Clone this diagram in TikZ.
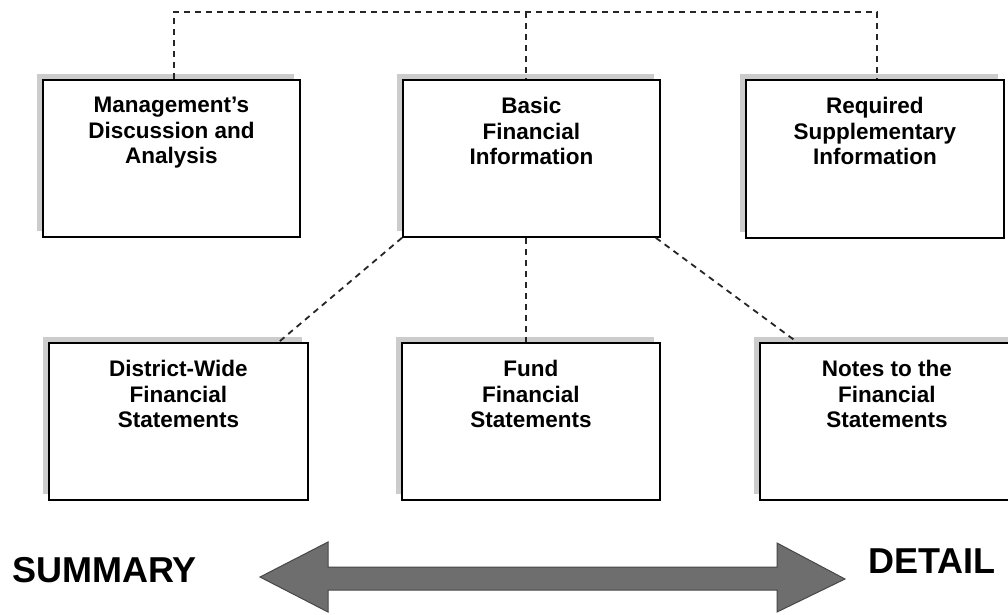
\documentclass[tikz,border=0pt]{standalone}
\usepackage{fontspec}
\setmainfont{Liberation Sans}
\usetikzlibrary{shadows}
\begin{document}
\begin{tikzpicture}[x=1pt,y=-1pt,
  box/.style={draw=black, line width=1.8pt, fill=white, anchor=north west, inner sep=0pt,
    drop shadow={shadow xshift=-6pt, shadow yshift=6pt, fill=black!20, opacity=1}},
  txt/.style={font=\bfseries\fontsize{22.5}{25.5}\selectfont, align=center, anchor=north, inner sep=0pt},
  conn/.style={draw=black!85, line width=1.8pt, dash pattern=on 6pt off 5pt},
  big/.style={font=\bfseries\fontsize{36}{40}\selectfont, inner sep=0pt, anchor=base west},
  fatarrow/.style={fill=black!57, draw=black!72, line width=1pt, line join=miter}]
\clip (0,0) rectangle (1008,614);
\fill[white] (0,0) rectangle (1008,614);

% top row boxes
\node[box, minimum width=257pt, minimum height=157pt] (mda) at (42,79) {};
\node[box, minimum width=257pt, minimum height=157pt] (bfi) at (402,79) {};
\node[box, minimum width=258pt, minimum height=158pt] (rsi) at (745,79) {};
% bottom row boxes
\node[box, minimum width=259pt, minimum height=157pt] (dw) at (48,342) {};
\node[box, minimum width=258pt, minimum height=157pt] (ffs) at (401,342) {};
\node[box, minimum width=256pt, minimum height=157pt] (nfs) at (759,342) {};

% box texts
\node[txt] (mdat) at ([yshift=-18pt]mda.north) {Management’s\\Discussion and\\Analysis};
\node[txt] (bfit) at ([yshift=-18pt]bfi.north) {Basic\\Financial\\Information};
\node[txt] (rsit) at ([yshift=-18pt]rsi.north) {Required\\Supplementary\\Information};
\node[txt] (dwt) at ([yshift=-18pt]dw.north) {District-Wide\\Financial\\Statements};
\node[txt] (ffst) at ([yshift=-18pt]ffs.north) {Fund\\Financial\\Statements};
\node[txt] (nfst) at ([xshift=-1pt,yshift=-18pt]nfs.north) {Notes to the\\Financial\\Statements};

% dashed connectors
\coordinate (tl) at (174,12);
\coordinate (tm) at (526,12);
\coordinate (tr) at (877,12);
\draw[conn] (tl |- mda.north) -- (tl) -- (tr) -- (tr |- rsi.north);
\draw[conn] (tm) -- (tm |- bfi.north);
\draw[conn] (bfi.south west) -- ([xshift=-30pt]dw.north east);
\draw[conn] (tm |- bfi.south) -- (tm |- ffs.north);
\draw[conn] ([xshift=-5pt]bfi.south east) -- ([xshift=38pt]nfs.north west);

% double arrow
\draw[fatarrow] (260,577) -- (328,542) -- (328,567) -- (777,567) -- (777,543) -- (845,579)
  -- (777,612) -- (777,590) -- (328,590) -- (328,612) -- cycle;

\node[big] (summary) at (12,582) {SUMMARY};
\node[big] (detail) at (868,573) {DETAIL};
\end{tikzpicture}
\end{document}
